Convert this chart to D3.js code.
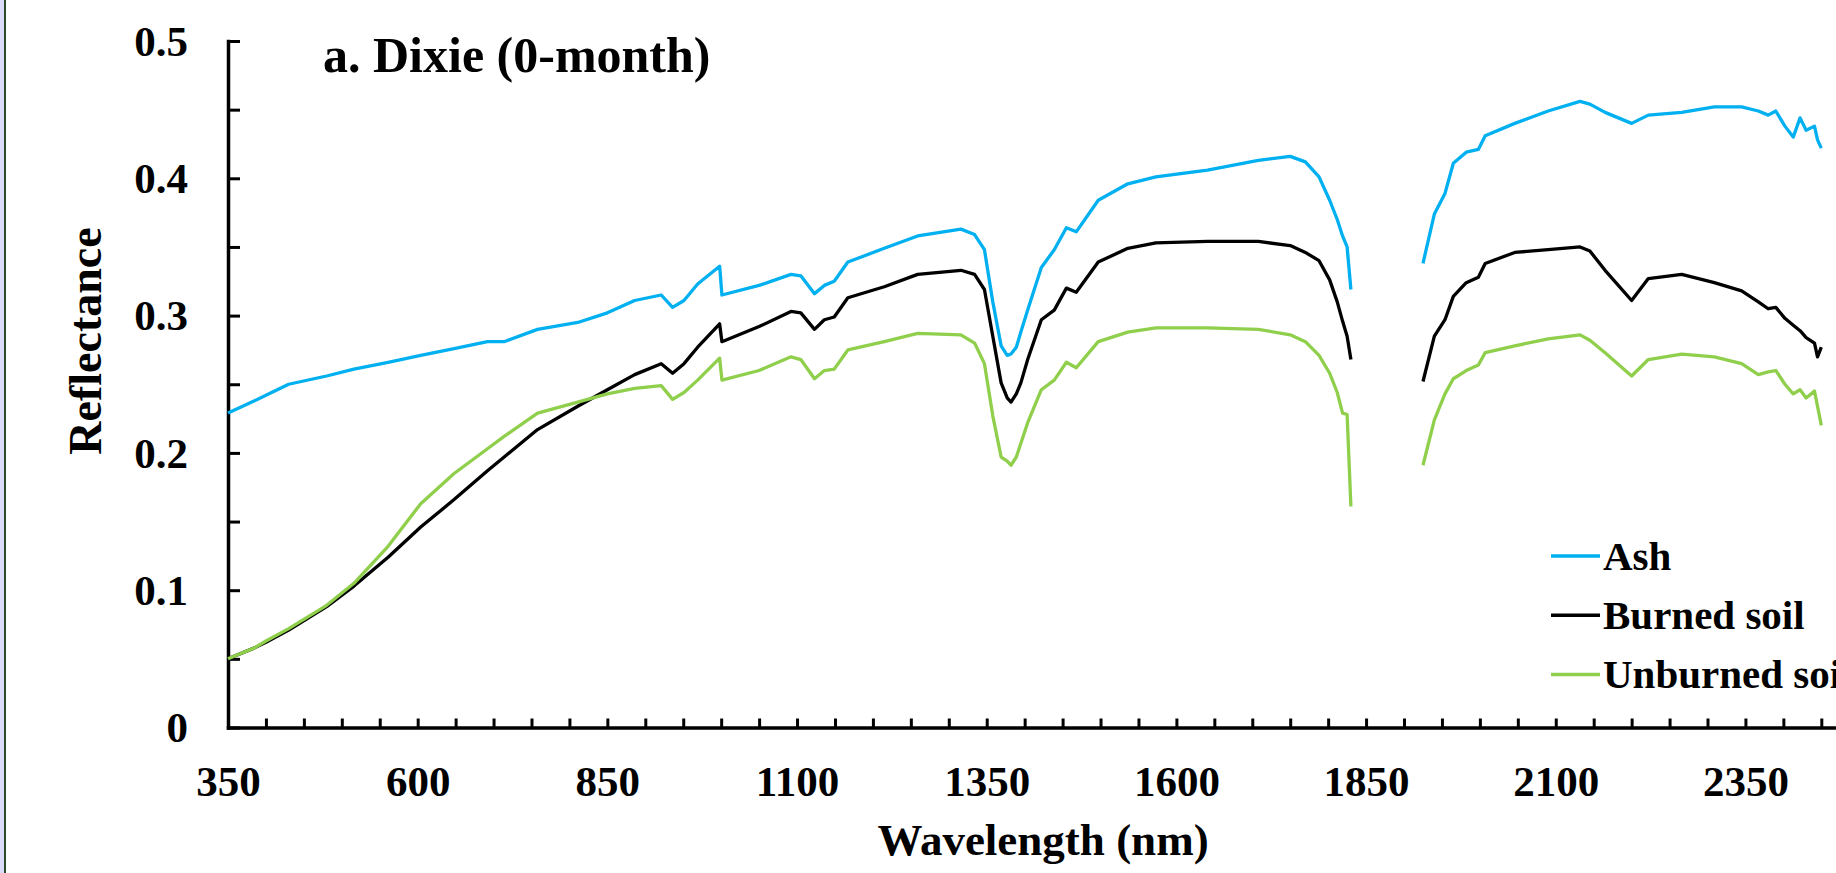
<!DOCTYPE html>
<head>
<meta charset="utf-8">
<style>
body { margin: 0; background: #fff; }
svg { display: block; }
.chart text {
  font-family: "Liberation Serif", "Times New Roman", serif;
  font-weight: bold;
  fill: #000;
}
.axis path, .axis line {
  stroke: #000;
}
.axis path { stroke-width: 3.5; }
.axis line { stroke-width: 3; }
.series {
  fill: none;
  stroke-width: 3.3;
  stroke-linejoin: round;
}
</style>
</head>
<body>
<svg class="chart"></svg>
<script src="https://cdn.jsdelivr.net/npm/d3@7"></script>
<script>

// wavelength grid (nm); null values mark the removed 1830-1925 water band
const wavelength = [
  350, 385, 400, 430, 480, 516, 561, 604, 648, 692, 714, 758, 811, 850, 886, 921, 936, 951, 969, 998,
  1001, 1050, 1092, 1105, 1123, 1136, 1149, 1167, 1215, 1259, 1316, 1334, 1347, 1358, 1369, 1377, 1382,
  1389, 1395, 1404, 1422, 1439, 1455, 1468, 1497, 1536, 1573, 1641, 1708, 1750, 1770, 1788, 1802, 1812,
  1819, 1825, 1830, 1878,
  1925, 1940, 1954, 1965, 1982, 1998, 2007, 2046, 2090, 2132, 2145, 2165, 2200, 2222, 2266, 2309, 2345,
  2367, 2380, 2390, 2402, 2413, 2422, 2430, 2441, 2445, 2450
]

const ash = [
  0.229, 0.238, 0.242, 0.250, 0.256, 0.261, 0.266, 0.271, 0.276, 0.281, 0.281, 0.290, 0.295, 0.302, 0.311, 0.315, 0.306, 0.311, 0.323, 0.336,
  0.315, 0.322, 0.330, 0.329, 0.316, 0.322, 0.325, 0.339, 0.349, 0.358, 0.363, 0.359, 0.348, 0.310, 0.278, 0.271, 0.272,
  0.277, 0.288, 0.304, 0.335, 0.348, 0.364, 0.361, 0.384, 0.396, 0.401, 0.406, 0.413, 0.416, 0.412, 0.401, 0.384, 0.370,
  0.358, 0.350, 0.319, null,
  0.338, 0.374, 0.389, 0.411, 0.419, 0.421, 0.431, 0.440, 0.449, 0.456, 0.454, 0.448, 0.440, 0.446, 0.448, 0.452, 0.452,
  0.449, 0.446, 0.449, 0.438, 0.430, 0.444, 0.435, 0.438, 0.428, 0.422
]

const burnedSoil = [
  0.050, 0.058, 0.062, 0.071, 0.088, 0.103, 0.124, 0.146, 0.166, 0.187, 0.197, 0.217, 0.234, 0.246, 0.257, 0.265, 0.258, 0.265, 0.277, 0.294,
  0.281, 0.292, 0.303, 0.302, 0.290, 0.297, 0.299, 0.313, 0.321, 0.330, 0.333, 0.330, 0.319, 0.285, 0.251, 0.240, 0.237,
  0.243, 0.251, 0.268, 0.297, 0.304, 0.320, 0.317, 0.339, 0.349, 0.353, 0.354, 0.354, 0.351, 0.346, 0.340, 0.326, 0.310,
  0.296, 0.285, 0.268, null,
  0.252, 0.285, 0.297, 0.314, 0.324, 0.328, 0.338, 0.346, 0.348, 0.350, 0.347, 0.333, 0.311, 0.327, 0.330, 0.324, 0.318,
  0.310, 0.305, 0.306, 0.298, 0.293, 0.289, 0.284, 0.280, 0.270, 0.277
]

const unburnedSoil = [
  0.050, 0.058, 0.063, 0.072, 0.089, 0.105, 0.132, 0.163, 0.185, 0.203, 0.212, 0.229, 0.237, 0.243, 0.247, 0.249, 0.239, 0.244, 0.253, 0.269,
  0.253, 0.260, 0.270, 0.268, 0.254, 0.260, 0.261, 0.275, 0.281, 0.287, 0.286, 0.280, 0.265, 0.227, 0.197, 0.194, 0.191,
  0.197, 0.207, 0.222, 0.246, 0.253, 0.266, 0.262, 0.281, 0.288, 0.291, 0.291, 0.290, 0.286, 0.281, 0.271, 0.258, 0.244,
  0.229, 0.228, 0.161, null,
  0.191, 0.224, 0.243, 0.254, 0.260, 0.264, 0.273, 0.278, 0.283, 0.286, 0.282, 0.273, 0.256, 0.268, 0.272, 0.270, 0.265,
  0.257, 0.259, 0.260, 0.250, 0.243, 0.246, 0.240, 0.245, 0.234, 0.220
]

const seriesNames = ['Ash', 'Burned soil', 'Unburned soil']
const seriesColors = ['#00b0f0', '#000000', '#8fcf4c']
const xTickLabels = [350, 600, 850, 1100, 1350, 1600, 1850, 2100, 2350]
const yTickLabels = [0, 0.1, 0.2, 0.3, 0.4, 0.5]

const width = 1836
const height = 873

const svg = d3.select('svg')
  .attr('width', width)
  .attr('height', height)

svg.append('rect')
  .attr('width', width)
  .attr('height', height)
  .attr('fill', '#fff')

// frame edge on the left of the picture
svg.append('rect').attr('x', 0).attr('y', 0).attr('width', 4).attr('height', height).attr('fill', '#dcdcf8')
svg.append('rect').attr('x', 4).attr('y', 0).attr('width', 2).attr('height', height).attr('fill', '#2a4a2e')

// axis runs off the right edge of the picture
const x = d3.scaleLinear()
  .domain([350, 2472])
  .range([228, 1838])

const y = d3.scaleLinear()
  .domain([0, 0.5])
  .range([727.5, 41])

const xAxis = svg.append('g')
  .attr('class', 'axis')
  .attr('transform', `translate(0, ${y(0)})`)
  .call(d3.axisBottom(x)
    .tickValues(d3.range(350, 2472, 50))
    .tickSize(-9)
    .tickSizeOuter(0)
    .tickFormat(d => xTickLabels.includes(d) ? d : ''))

xAxis.selectAll('text')
  .attr('y', 68)
  .attr('dy', 0)
  .style('font-size', '43px')

const yAxis = svg.append('g')
  .attr('class', 'axis')
  .attr('transform', `translate(${x(350)}, 0)`)
  .call(d3.axisLeft(y)
    .tickValues(d3.range(0, 0.501, 0.05))
    .tickSize(-12)
    .tickSizeOuter(0)
    .tickFormat(d => {
      const hit = yTickLabels.find(v => Math.abs(v - d) < 1e-6)
      if (hit === undefined) return ''
      return hit === 0 ? '0' : hit.toFixed(1)
    }))

yAxis.selectAll('text')
  .attr('x', -40)
  .attr('dy', '0.33em')
  .style('font-size', '43px')

xAxis.select('.domain').attr('stroke-linecap', 'square')
yAxis.select('.domain').attr('stroke-linecap', 'square')

// spectra
const seriesValues = [ash, burnedSoil, unburnedSoil]
const line = d3.line()
  .defined(d => d.v !== null)
  .x(d => x(d.w))
  .y(d => y(d.v))

seriesValues.forEach((values, i) => {
  const points = wavelength.map((w, j) => ({w, v: values[j]}))
  svg.append('path')
    .attr('class', 'series')
    .attr('stroke', seriesColors[i])
    .attr('d', line(points))
})

// titles
svg.append('text')
  .attr('x', 323)
  .attr('y', 72)
  .style('font-size', '50px')
  .text('a. Dixie (0-month)')

svg.append('text')
  .attr('x', 1043)
  .attr('y', 855)
  .attr('text-anchor', 'middle')
  .style('font-size', '45px')
  .text('Wavelength (nm)')

svg.append('text')
  .attr('transform', 'translate(101, 341) rotate(-90)')
  .attr('text-anchor', 'middle')
  .style('font-size', '46px')
  .text('Reflectance')

// legend (the last label runs off the picture, as in the original)
const legend = svg.append('g')
  .attr('transform', 'translate(1551, 556)')

const legendItem = legend.selectAll('g')
  .data(seriesNames)
  .enter()
  .append('g')
    .attr('transform', (d, i) => `translate(0, ${i * 59.2})`)

legendItem.append('line')
  .attr('x1', 0)
  .attr('x2', 49)
  .attr('stroke', (d, i) => seriesColors[i])
  .attr('stroke-width', 3.5)

legendItem.append('text')
  .attr('x', 52)
  .attr('dy', '0.33em')
  .style('font-size', '41px')
  .text(d => d)

</script>
</body>
